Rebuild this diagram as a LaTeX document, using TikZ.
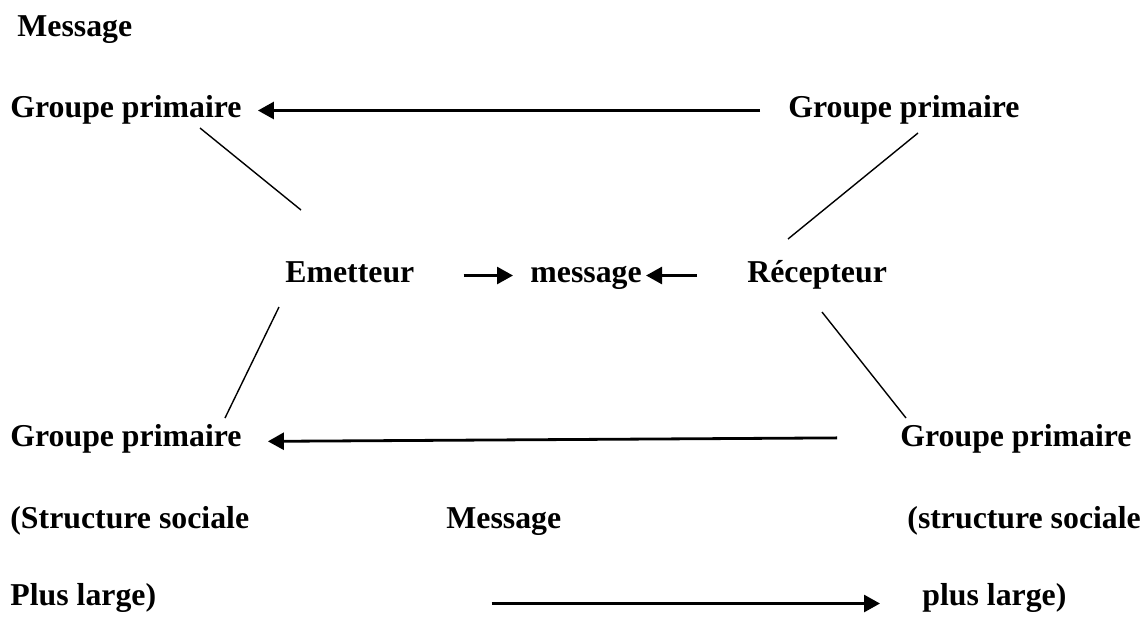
\documentclass[tikz,border=0pt]{standalone}
\usepackage{fontspec}
\setmainfont{Liberation Serif}
\usetikzlibrary{arrows.meta}
\tikzset{
  lbl/.style={anchor=base west,inner sep=0pt,font=\fontsize{15.9}{19}\selectfont\bfseries,text height=0.7em,text depth=0.25em},
  arr/.style={line width=1.4pt,-{Triangle[length=8pt,width=8.5pt]}},
  link/.style={line width=0.7pt}
}
\begin{document}
\begin{tikzpicture}[x=0.5pt,y=-0.5pt]
          \useasboundingbox (0,0) rectangle (1146,617);
          \node[lbl] (msgtop) at (17,36) {Message};
          \node[lbl] (gtl) at (10,117) {Groupe primaire};
          \node[lbl] (gtr) at (788,117) {Groupe primaire};
          \node[lbl] (em) at (285,282) {Emetteur};
          \node[lbl] (msg) at (530,282) {message};
          \node[lbl] (rec) at (747,282) {Récepteur};
          \node[lbl] (gbl) at (10,446) {Groupe primaire};
          \node[lbl] (gbr) at (900,446) {Groupe primaire};
          \node[lbl] (sl) at (10,528) {(Structure sociale};
          \node[lbl] (msgbot) at (446,528) {Message};
          \node[lbl] (sr) at (907,528) {(structure sociale};
          \node[lbl] (pl) at (10,605) {Plus large)};
          \node[lbl] (pr) at (922,605) {plus large)};
          % free ends of the slanted links
          \coordinate (l1a) at (200,128); \coordinate (l1b) at (301,210);
          \coordinate (r1a) at (918,133); \coordinate (r1b) at (788,239);
          \coordinate (l2a) at (279,307); \coordinate (l2b) at (225,418);
          \coordinate (r2a) at (822,312); \coordinate (r2b) at (906,418);
          \draw[link] (l1a) -- (l1b);
          \draw[link] (r1a) -- (r1b);
          \draw[link] (l2a) -- (l2b);
          \draw[link] (r2a) -- (r2b);
          % arrows
          \draw[arr,shorten <=14pt,shorten >=8pt] ([yshift=1pt]gtr.west) -- ([yshift=1pt]gtl.east);
          \draw[arr,shorten <=24.5pt,shorten >=8.5pt] ([yshift=1pt]em.east) -- ([yshift=1pt]msg.west);
          \draw[arr,shorten <=25pt,shorten >=2pt] ([yshift=1pt]rec.west) -- ([yshift=1pt]msg.east);
          \draw[arr,shorten <=31.5pt,shorten >=13pt] ([yshift=2pt]gbr.west) -- ([yshift=0pt]gbl.east);
          \draw[arr,shorten <=167.5pt,shorten >=21pt] ([yshift=-1.5pt]pl.east) -- ([yshift=-1.5pt]pr.west);
        \end{tikzpicture}
\end{document}
